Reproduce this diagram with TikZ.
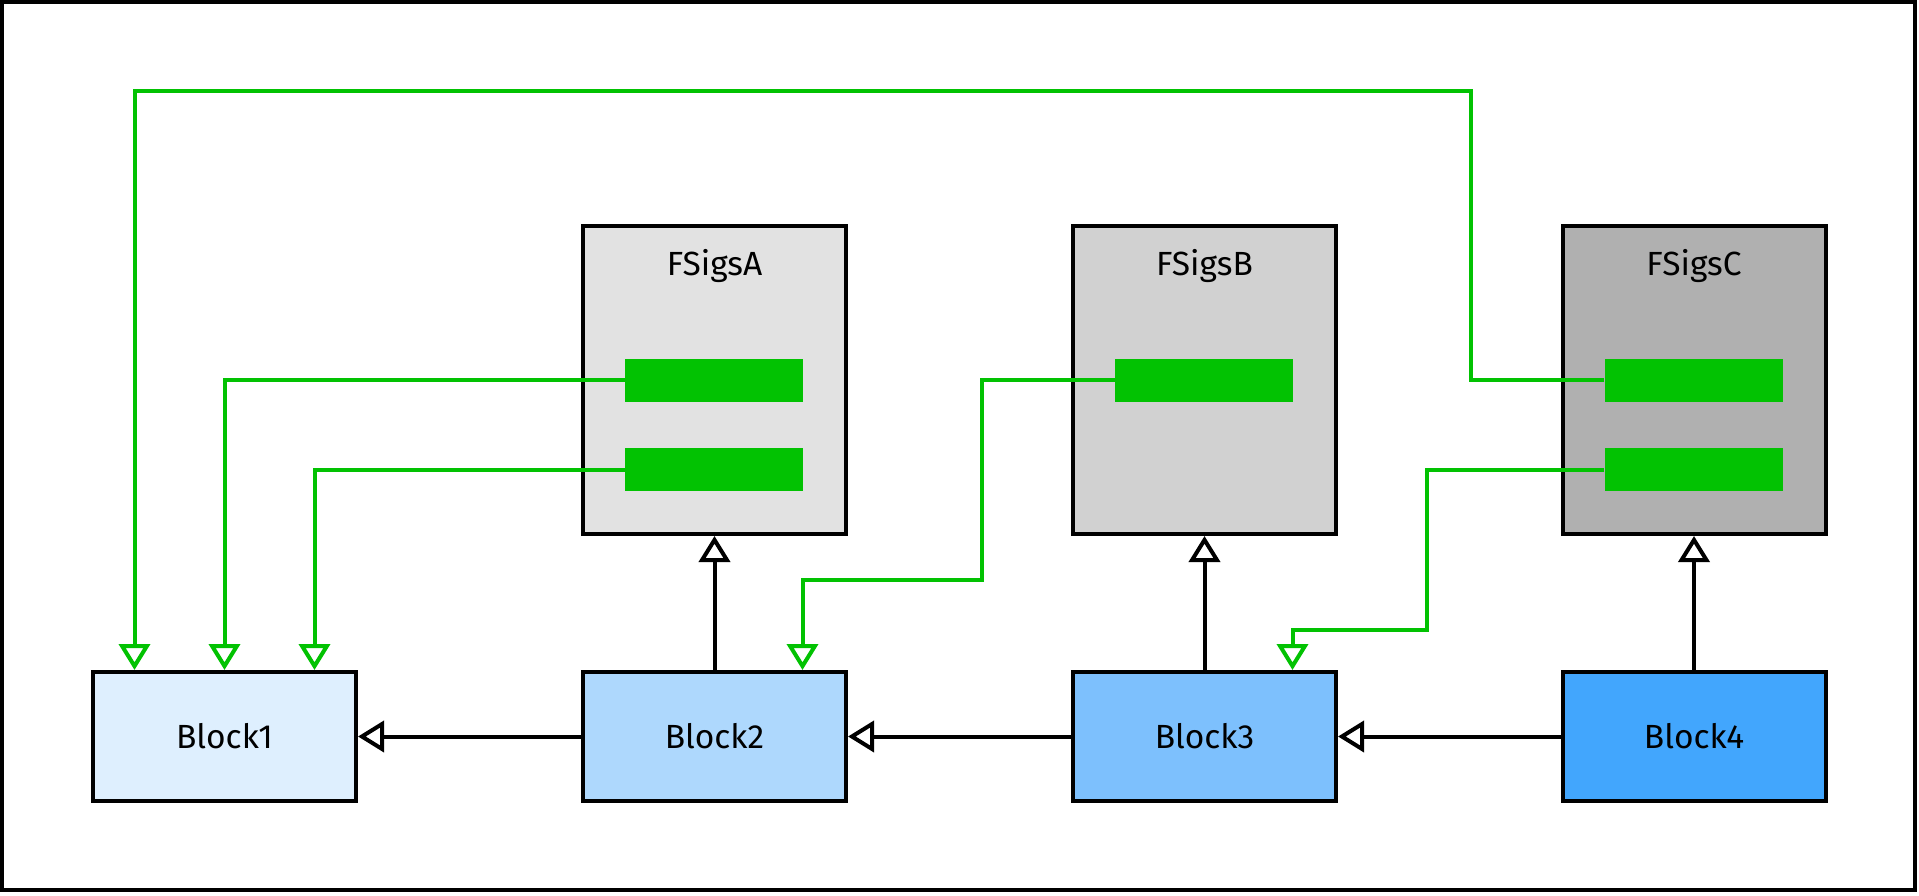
\documentclass[tikz,border=0pt]{standalone}
\usepackage{fontspec}
\setmainfont{Fira Sans}
\usetikzlibrary{arrows.meta}

\definecolor{sigGreen}{RGB}{2,194,2}
\definecolor{blockA}{RGB}{222,239,254}
\definecolor{blockB}{RGB}{174,216,253}
\definecolor{blockC}{RGB}{125,192,253}
\definecolor{blockD}{RGB}{66,166,253}
\definecolor{fsigA}{RGB}{226,226,226}
\definecolor{fsigB}{RGB}{209,209,209}
\definecolor{fsigC}{RGB}{176,176,176}

\tikzset{
	block/.style = {draw, line width = 4pt, minimum width = 263pt, minimum height = 129pt, inner sep = 0pt, font = \fontsize{33.5}{40}\selectfont},
	fsig/.style = {draw, line width = 4pt, minimum width = 263pt, minimum height = 308pt, inner sep = 0pt},
	fsigname/.style = {font = \fontsize{33.5}{40}\selectfont},
	sigbar/.style = {fill = sigGreen, minimum width = 178pt, minimum height = 43pt, inner sep = 0pt},
	link/.style = {black, line width = 4pt, -{Triangle[open, length = 26pt, width = 31pt]}},
	sig/.style = {sigGreen, line width = 4pt, -{Triangle[open, length = 26pt, width = 31pt]}}
}

\begin{document}
\begin{tikzpicture}[x = 1pt, y = -1pt]
					\useasboundingbox (0, 0) rectangle (1919, 896);
					\draw[line width = 4pt] (2, 2) rectangle (1915, 890);
					% blocks
					\node[block, fill = blockA] (b1) at (224.5, 736.5) {Block1};
					\node[block, fill = blockB] (b2) at (714.5, 736.5) {Block2};
					\node[block, fill = blockC] (b3) at (1204.5, 736.5) {Block3};
					\node[block, fill = blockD] (b4) at (1694, 736.5) {Block4};
					% signal sets
					\node[fsig, fill = fsigA] (fA) at (714.5, 380) {};
					\node[fsig, fill = fsigB] (fB) at (1204.5, 380) {};
					\node[fsig, fill = fsigC] (fC) at (1694, 380) {};
					\node[fsigname] (fAn) at (714.5, 266) {FSigsA};
					\node[fsigname] (fBn) at (1204.5, 266) {FSigsB};
					\node[fsigname] (fCn) at (1694, 266) {FSigsC};
					\node[sigbar] (sA1) at (714, 380) {};
					\node[sigbar] (sA2) at (714, 469.5) {};
					\node[sigbar] (sB1) at (1204, 380) {};
					\node[sigbar] (sC1) at (1693.5, 380) {};
					\node[sigbar] (sC2) at (1693.5, 469.5) {};
					% bends
					\coordinate (topC) at (1471, 91);
					\coordinate (midB) at (981.5, 580);
					\coordinate (midC) at (1427, 630);
					% black links
					\draw[link] (b2) -- (fA);
					\draw[link] (b3) -- (fB);
					\draw[link] (b4) -- (fC);
					\draw[link] (b2) -- (b1);
					\draw[link] (b3) -- (b2);
					\draw[link] (b4) -- (b3);
					% green links
					\draw[sig] (sA1.west) -| (b1.north);
					\draw[sig] (sA2.west) -| ([xshift = 90pt]b1.north);
					\draw[sig] (sC1.west) -| (topC) -| ([xshift = -90pt]b1.north);
					\draw[sig] (sB1.west) -| (midB) -| ([xshift = 88pt]b2.north);
					\draw[sig] (sC2.west) -| (midC) -| ([xshift = 88pt]b3.north);
				\end{tikzpicture}
\end{document}
